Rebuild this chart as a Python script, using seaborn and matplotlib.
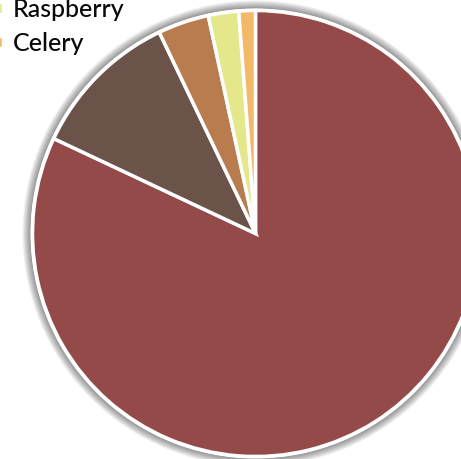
import matplotlib
matplotlib.use("Agg")
import matplotlib.pyplot as plt
from matplotlib.patches import Circle
import seaborn as sns

labels = ["Cherry", "Chocolate", "Caramel", "Raspberry", "Celery"]
values = [82.0, 10.9, 3.7, 2.2, 1.2]
colors = ["#954a4a", "#6b5349", "#b97c4f", "#e5e78b", "#f2b968"]

sns.set_theme(style="white")
plt.rcParams['font.family'] = ['Lato', 'DejaVu Sans']

W, H = 461, 459
fig = plt.figure(figsize=(W / 100, H / 100), dpi=100)
ax = fig.add_axes([0, 0, 1, 1])

cx, cy, r = 255.5, H - 233.5, 223.0

# soft glow shadow
for i in range(10):
    ax.add_patch(Circle((cx, cy), r + 2 + i * 0.9, facecolor='black',
                        edgecolor='none', alpha=0.05, zorder=0))
ax.add_patch(Circle((cx, cy), r + 2, facecolor='white', edgecolor='none', zorder=0.5))

wedges, _ = ax.pie(values, colors=sns.color_palette(colors), startangle=90,
                   counterclock=False, center=(cx, cy), radius=r,
                   wedgeprops=dict(edgecolor='white', linewidth=2.5), frame=True)
ax.set_xlim(0, W)
ax.set_ylim(0, H)
ax.set_aspect('equal')
ax.axis('off')

leg = ax.legend(wedges, labels, loc='lower left',
                bbox_to_anchor=(-7 / W, (H - 55) / H), frameon=False,
                fontsize=18, handlelength=0.4, handleheight=0.4,
                handletextpad=0.4, labelspacing=0.45, borderpad=0,
                borderaxespad=0)
for t in leg.get_texts():
    t.set_color('#0a0a0a')
    t.set_fontweight('medium')

fig.savefig("out.png", dpi=100)
